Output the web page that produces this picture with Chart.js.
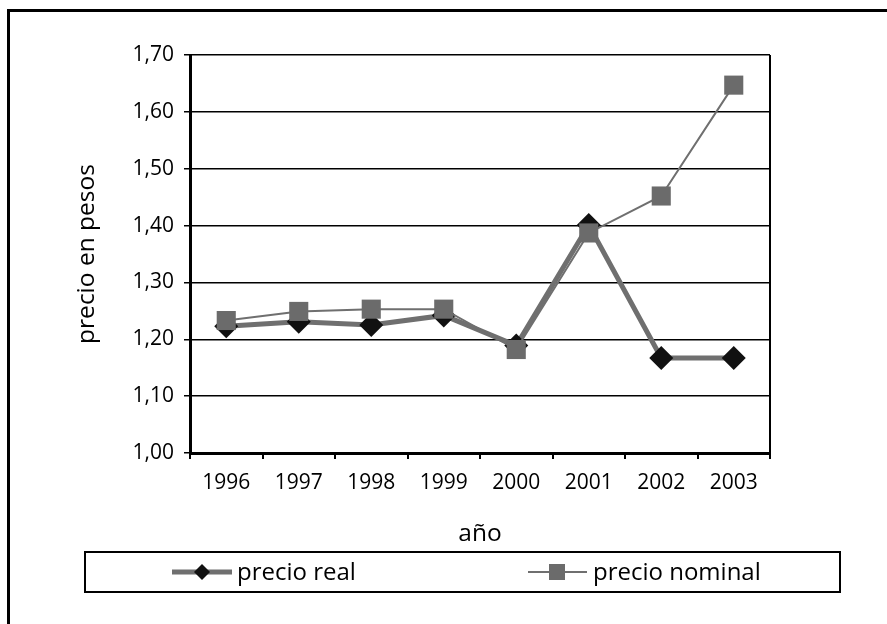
<!DOCTYPE html>
<html>
<head>
<meta charset="utf-8">
<script src="https://cdn.jsdelivr.net/npm/chart.js@4.4.0/dist/chart.umd.min.js"></script>
<style>
  body { margin: 0; background: #fff; }
  #frame {
    position: absolute; left: 7px; top: 9px; width: 1000px; height: 700px;
    border-left: 3px solid #000; border-top: 3px solid #000;
  }
  #chart { position: absolute; left: 0; top: 0; }
</style>
</head>
<body>
<div id="frame"></div>
<canvas id="chart" width="887" height="624"></canvas>
<script>
// ===== DATA =====
const years = ['1996', '1997', '1998', '1999', '2000', '2001', '2002', '2003'];
const precioReal = [1.223, 1.231, 1.225, 1.242, 1.189, 1.401, 1.167, 1.167];
const precioNominal = [1.233, 1.249, 1.253, 1.253, 1.182, 1.387, 1.452, 1.647];

// y axis range
const yMin = 1.0;
const yMax = 1.7;
const yStep = 0.1;

// ===== STYLE =====
const FONT = '"Open Sans", "Noto Sans", sans-serif';
const lineGray = '#6f6f6f';
const squareGray = '#6b6b6b';
const diamondBlack = '#111111';

// plot area border on the right (Excel style)
const plotBorder = {
  id: 'plotBorder',
  afterDraw(chart) {
    const { ctx, chartArea } = chart;
    ctx.save();
    ctx.strokeStyle = '#000';
    ctx.lineWidth = 2;
    ctx.beginPath();
    ctx.moveTo(chartArea.right, chartArea.top);
    ctx.lineTo(chartArea.right, chartArea.bottom);
    ctx.stroke();
    ctx.restore();
  }
};

// boxed legend under the x axis title
const boxLegend = {
  id: 'boxLegend',
  afterDraw(chart) {
    const ctx = chart.ctx;
    const ds = chart.data.datasets;
    const cy = 572;
    ctx.save();
    ctx.strokeStyle = '#000';
    ctx.lineWidth = 2;
    ctx.strokeRect(85, 552, 755, 40);

    ctx.font = '24px ' + FONT;
    ctx.fillStyle = '#000';
    ctx.textBaseline = 'middle';

    // precio real
    ctx.strokeStyle = ds[1].borderColor;
    ctx.lineWidth = ds[1].borderWidth;
    ctx.beginPath();
    ctx.moveTo(172, cy); ctx.lineTo(232, cy);
    ctx.stroke();
    ctx.fillStyle = ds[1].pointBackgroundColor;
    ctx.beginPath();
    ctx.moveTo(202, cy - 8); ctx.lineTo(210, cy); ctx.lineTo(202, cy + 8); ctx.lineTo(194, cy);
    ctx.closePath();
    ctx.fill();
    ctx.fillStyle = '#000';
    ctx.fillText(ds[1].label, 237, cy + 1);

    // precio nominal
    ctx.strokeStyle = ds[0].borderColor;
    ctx.lineWidth = ds[0].borderWidth;
    ctx.beginPath();
    ctx.moveTo(528, cy); ctx.lineTo(587, cy);
    ctx.stroke();
    ctx.fillStyle = ds[0].pointBackgroundColor;
    ctx.fillRect(549, cy - 8, 16, 16);
    ctx.fillStyle = '#000';
    ctx.fillText(ds[0].label, 593, cy + 1);
    ctx.restore();
  }
};

const data = {
  labels: years,
  datasets: [
    {
      label: 'precio nominal',
      data: precioNominal,
      borderColor: lineGray,
      borderWidth: 2,
      pointStyle: 'rect',
      pointRadius: 13.5,
      pointBorderWidth: 0,
      pointBackgroundColor: squareGray,
      pointBorderColor: squareGray,
      order: 0
    },
    {
      label: 'precio real',
      data: precioReal,
      borderColor: lineGray,
      borderWidth: 5,
      pointStyle: 'rectRot',
      pointRadius: 12,
      pointBorderWidth: 0,
      pointBackgroundColor: diamondBlack,
      pointBorderColor: diamondBlack,
      order: 1
    }
  ]
};

const config = {
  type: 'line',
  data,
  plugins: [plotBorder, boxLegend],
  options: {
    responsive: false,
    animation: false,
    events: [],
    clip: false,
    layout: { padding: { left: 0, right: 117, top: 55, bottom: 71 } },
    elements: { line: { tension: 0 } },
    plugins: {
      legend: { display: false },
      title: { display: false },
      tooltip: { enabled: false }
    },
    scales: {
      x: {
        type: 'category',
        offset: true,
        afterFit: (scale) => { scale.height = 100; },
        grid: {
          offset: true,
          drawOnChartArea: false,
          drawTicks: true,
          tickLength: 6,
          color: '#000',
          lineWidth: 2
        },
        border: { display: true, color: '#000', width: 3 },
        ticks: {
          color: '#000',
          padding: 11,
          maxRotation: 0,
          font: { family: FONT, size: 21 }
        },
        title: {
          display: true,
          text: 'año',
          color: '#000',
          padding: { top: 0, bottom: 4 },
          font: { family: FONT, size: 24.5 }
        }
      },
      y: {
        min: yMin,
        max: yMax,
        afterFit: (scale) => { scale.width = 190; },
        grid: {
          color: '#000',
          lineWidth: 1.5,
          drawTicks: true,
          tickLength: 6
        },
        border: { display: true, color: '#000', width: 3 },
        ticks: {
          stepSize: yStep,
          color: '#000',
          padding: 10,
          font: { family: FONT, size: 21 },
          callback: (v) => v.toFixed(2).replace('.', ',')
        },
        title: {
          display: true,
          text: 'precio en pesos',
          color: '#000',
          padding: { top: 72, bottom: 0 },
          font: { family: FONT, size: 24.5 }
        }
      }
    }
  }
};

window.addEventListener('load', () => {
  new Chart(document.getElementById('chart'), config);
});
</script>
</body>
</html>
